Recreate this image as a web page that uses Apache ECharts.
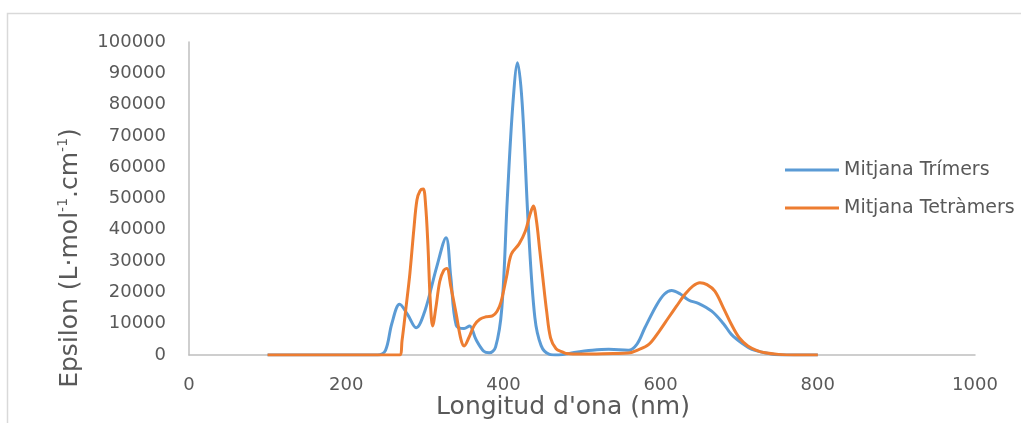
<!DOCTYPE html>
<html>
<head>
<meta charset="utf-8">
<script src="https://cdn.jsdelivr.net/npm/echarts@6/dist/echarts.min.js"></script>
<style>html,body{margin:0;padding:0;background:#fff}#c{width:1021px;height:423px}</style>
</head>
<body>
<div id="c"></div>
<script>
const seriesNames = ['Mitjana Trímers', 'Mitjana Tetràmers'];
const xTitle = "Longitud d'ona (nm)";
const xTicks = { min: 0, max: 1000, interval: 200 };
const yTicks = { min: 0, max: 100000, interval: 10000 };

const trimersX = [100,200,240,250,258,268,278,289,300,315,327,333,340,350,357,365,375,382,390,398,405,412,418,424,432,440,448,458,470,490,513,534,559,570,580,595,605,614,625,636,648,665,680,690,705,716,741,760,800];
const trimersY = [0,0,0,1500,10000,16200,13000,8700,14000,28000,37500,25000,9500,8500,9300,5000,1200,700,2500,15000,50000,80000,93400,80000,40000,12000,3000,300,0,800,1500,1800,1500,3500,8700,16000,19500,20600,19500,17500,16500,14000,10000,6600,3500,1800,300,0,0];

const tetramersX = [100,200,255,268,271,276,281,286,290,294,298,301,304,307,310,314,319,324,328,333,340,346,350,356,363,370,378,386,392,397,404,410,420,428,434,438,442,446,450,455,460,467,475,480,500,540,559,570,585,598,610,620,631,641,650,659,669,680,690,700,711,722,733,750,770,800];
const tetramersY = [0,0,0,0,4500,15000,26000,40000,49500,52500,53000,48000,35000,17000,9300,15000,23500,27000,27600,22000,13000,5000,2900,5500,9500,11400,12200,12500,14000,17000,25000,32200,35500,39600,45000,47600,43000,34000,25000,14000,5500,2000,1000,500,300,500,600,1500,3400,7500,11900,15500,19400,22000,23100,22500,20400,15000,9800,5500,2900,1500,700,200,0,0];

const pairs = (xs, ys) => xs.map((x, i) => [x, ys[i]]);
const FONT = 'DejaVu Sans';
const TXT = '#595959';
const plain = v => String(v);

const chart = echarts.init(document.getElementById('c'), null, { renderer: 'canvas' });
chart.setOption({
  animation: false,
  backgroundColor: '#ffffff',
  grid: { left: 189, right: 46, top: 42, bottom: 68, containLabel: false },
  legend: {
    orient: 'vertical',
    left: 780,
    top: 155,
    icon: 'rect',
    itemWidth: 54,
    itemHeight: 3,
    itemGap: 18,
    textStyle: { fontFamily: FONT, fontSize: 19, color: TXT, lineHeight: 20 },
    data: seriesNames
  },
  xAxis: {
    type: 'value',
    min: xTicks.min, max: xTicks.max, interval: xTicks.interval,
    axisLine: { show: true, lineStyle: { color: '#bfbfbf', width: 1.5 } },
    axisTick: { show: false },
    splitLine: { show: false },
    axisLabel: { margin: 21, fontFamily: FONT, fontSize: 18, color: TXT, formatter: plain }
  },
  yAxis: {
    type: 'value',
    min: yTicks.min, max: yTicks.max, interval: yTicks.interval,
    axisLine: { show: true, lineStyle: { color: '#bfbfbf', width: 1.5 } },
    axisTick: { show: false },
    splitLine: { show: false },
    axisLabel: { margin: 23, fontFamily: FONT, fontSize: 18, color: TXT, formatter: plain }
  },
  graphic: [
    { type: 'rect', shape: { x: 7.5, y: 13.5, width: 1100, height: 600 }, style: { fill: 'none', stroke: '#d9d9d9', lineWidth: 1.5 }, silent: true, z: -10 },
    { type: 'text', x: 563, y: 407, style: { text: xTitle, fontFamily: FONT, fontSize: 25, fill: TXT, align: 'center', verticalAlign: 'middle' } },
    { type: 'text', x: 70, y: 258, rotation: Math.PI / 2,
      style: {
        text: '{a|Epsilon (L·mol}{s|-1}{a|.cm}{s|-1}{a|)}',
        align: 'center', verticalAlign: 'middle',
        rich: {
          a: { fontFamily: FONT, fontSize: 25, fill: TXT, lineHeight: 30 },
          s: { fontFamily: FONT, fontSize: 14, fill: TXT, padding: [0, 0, 13, 0] }
        }
      } }
  ],
  series: [
    { name: seriesNames[0], type: 'line', data: pairs(trimersX, trimersY), smooth: 0.35, showSymbol: false, symbol: 'none',
      lineStyle: { color: '#5B9BD5', width: 3 }, itemStyle: { color: '#5B9BD5' }, z: 2 },
    { name: seriesNames[1], type: 'line', data: pairs(tetramersX, tetramersY), smooth: 0.35, showSymbol: false, symbol: 'none',
      lineStyle: { color: '#ED7D31', width: 3 }, itemStyle: { color: '#ED7D31' }, z: 3 }
  ]
});
</script>
</body>
</html>
